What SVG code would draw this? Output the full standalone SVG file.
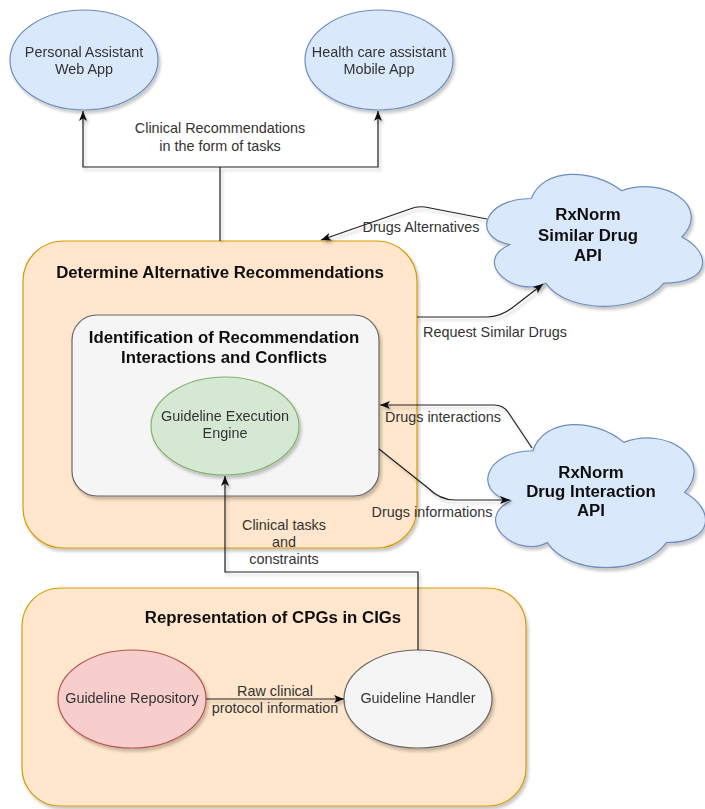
<svg xmlns="http://www.w3.org/2000/svg" width="705" height="809" viewBox="0 0 705 809">
<defs>
<filter id="sh" x="-10%" y="-10%" width="130%" height="130%">
<feDropShadow dx="2" dy="3" stdDeviation="1.5" flood-color="#000" flood-opacity="0.22"/>
</filter>
<marker id="arr" viewBox="0 0 10 8" refX="10" refY="4" markerWidth="10" markerHeight="8" markerUnits="userSpaceOnUse" orient="auto">
<path d="M0 0 L10 4 L0 8 L2.5 4 Z" fill="#111"/>
</marker>
</defs>
<style>
.t{font-family:"Liberation Sans",Arial,sans-serif;font-size:14.4px;fill:#333;text-anchor:middle}
.b{font-family:"Liberation Sans",Arial,sans-serif;font-size:16.8px;font-weight:bold;fill:#111;text-anchor:middle}
.blue{fill:#dae8fc;stroke:#6c8ebf;stroke-width:1.2}
.org{fill:#ffe6cc;stroke:#d79b00;stroke-width:1.2}
.gray{fill:#f5f5f5;stroke:#666;stroke-width:1.2}
.grn{fill:#d5e8d4;stroke:#82b366;stroke-width:1.2}
.red{fill:#f8cecc;stroke:#b85450;stroke-width:1.2}
.e{fill:none;stroke:#222;stroke-width:1.2}
.ea{fill:none;stroke:#222;stroke-width:1.2;marker-end:url(#arr)}
</style>
<rect width="705" height="809" fill="#fff"/>
<g id="personal-assistant" filter="url(#sh)">
<ellipse class="blue" cx="84" cy="60" rx="74" ry="50"/>
<text class="t" x="84" y="57">Personal Assistant</text>
<text class="t" x="84" y="74">Web App</text>
</g>
<g id="health-care-assistant" filter="url(#sh)">
<ellipse class="blue" cx="379" cy="60" rx="74" ry="50"/>
<text class="t" x="379" y="57">Health care assistant</text>
<text class="t" x="379" y="74">Mobile App</text>
</g>
<g id="determine-alternative" filter="url(#sh)">
<rect class="org" x="23" y="241" width="394" height="307" rx="40" ry="40"/>
<text class="b" x="220" y="278">Determine Alternative Recommendations</text>
</g>
<g id="identification" filter="url(#sh)">
<rect class="gray" x="72" y="315" width="307" height="181" rx="25" ry="25"/>
<text class="b" x="224" y="343">Identification of Recommendation</text>
<text class="b" x="224" y="363">Interactions and Conflicts</text>
</g>
<g id="guideline-execution-engine" filter="url(#sh)">
<ellipse class="grn" cx="225" cy="426" rx="74" ry="49"/>
<text class="t" x="225" y="421">Guideline Execution</text>
<text class="t" x="225" y="438">Engine</text>
</g>
<g id="rxnorm-similar" filter="url(#sh)">
<path class="blue" d="M531.25 198.5 C483.05 198.5 471 237 509.56 244.7 C471 261.64 514.38 298.6 545.71 283.2 C567.4 314 639.7 314 663.8 283.2 C712 283.2 712 252.4 681.875 237 C712 206.2 663.8 175.4 621.625 190.8 C591.5 167.7 543.3 167.7 531.25 198.5 Z"/>
<text class="b" x="588" y="220">RxNorm</text>
<text class="b" x="588" y="241">Similar Drug</text>
<text class="b" x="588" y="261">API</text>
</g>
<g id="rxnorm-interaction" filter="url(#sh)">
<path class="blue" d="M532.75 450.75 C484.15 450.75 472 492.5 510.88 500.85 C472 519.22 515.74 559.3 547.33 542.6 C569.2 576 642.1 576 666.4 542.6 C715 542.6 715 509.2 684.625 492.5 C715 459.1 666.4 425.7 623.875 442.4 C593.5 417.35 544.9 417.35 532.75 450.75 Z"/>
<text class="b" x="591" y="478">RxNorm</text>
<text class="b" x="591" y="497">Drug Interaction</text>
<text class="b" x="591" y="516">API</text>
</g>
<g id="representation" filter="url(#sh)">
<rect class="org" x="22" y="588" width="504" height="218" rx="38" ry="38"/>
<text class="b" x="273" y="623">Representation of CPGs in CIGs</text>
</g>
<g id="guideline-repository" filter="url(#sh)">
<ellipse class="red" cx="132" cy="699" rx="74" ry="49"/>
<text class="t" x="132" y="703">Guideline Repository</text>
</g>
<g id="guideline-handler" filter="url(#sh)">
<ellipse class="gray" cx="418" cy="699" rx="74" ry="49"/>
<text class="t" x="418" y="703">Guideline Handler</text>
</g>
<g id="connectors" filter="url(#sh)">
<path class="e" d="M220 241 L220 167"/>
<path class="ea" d="M220 167 L83 167 L83 111"/>
<path class="ea" d="M220 167 L378 167 L378 111"/>
<path class="ea" d="M487 219 L425 207 Q417 206 410 209 L321 240"/>
<path class="ea" d="M417 317 L487 317 Q500 317 512 308 L543 284"/>
<path class="ea" d="M532 448 L508 412 Q503 405 494 405 L380 405"/>
<path class="ea" d="M379 449 L428 488 Q440 500 455 500 L510 500"/>
<path class="ea" d="M418 650 L418 572 L225 572 L225 476"/>
<path class="ea" d="M206 699 L344 699"/>
</g>
<g id="labels">
<text class="t" x="220" y="133">Clinical Recommendations</text>
<text class="t" x="220" y="151">in the form of tasks</text>
<text class="t" x="421" y="232">Drugs Alternatives</text>
<text class="t" x="495" y="337">Request Similar Drugs</text>
<text class="t" x="443" y="422">Drugs interactions</text>
<text class="t" x="432" y="517">Drugs informations</text>
<text class="t" x="284" y="530">Clinical tasks</text>
<text class="t" x="284" y="547">and</text>
<text class="t" x="284" y="564">constraints</text>
<text class="t" x="275" y="696">Raw clinical</text>
<text class="t" x="275" y="713">protocol information</text>
</g>
</svg>
